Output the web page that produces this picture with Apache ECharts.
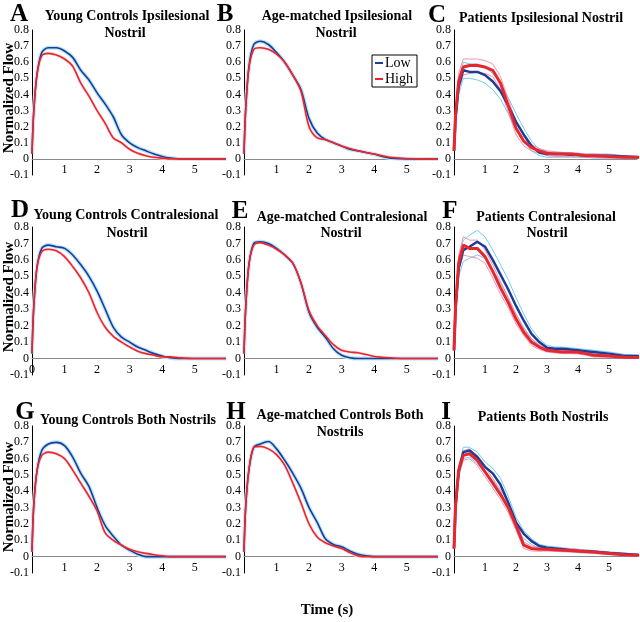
<!DOCTYPE html>
<html>
<head>
<meta charset="utf-8">
<script src="https://cdn.jsdelivr.net/npm/echarts@6/dist/echarts.min.js"></script>
<style>
  html, body { margin: 0; padding: 0; background: #fff; }
  #main { width: 640px; height: 622px; }
</style>
</head>
<body>
<div id="main"></div>
<script>
  // time points (s) shared by every curve
  const t = [0, 0.05, 0.15, 0.3, 0.5, 0.75, 1.0, 1.25, 1.5, 1.75, 2.0, 2.25, 2.5, 2.75, 3.0, 3.25, 3.5, 3.75, 4.0, 4.25, 4.5, 5.0, 5.5, 6.0];

  // A - young controls ipsilesional
  const aLow  = [0.03, 0.28, 0.52, 0.66, 0.69, 0.69, 0.67, 0.63, 0.55, 0.49, 0.41, 0.34, 0.26, 0.15, 0.10, 0.07, 0.05, 0.03, 0.015, 0.005, 0, 0, 0, 0];
  const aHigh = [0.03, 0.28, 0.52, 0.64, 0.655, 0.645, 0.62, 0.575, 0.47, 0.39, 0.30, 0.22, 0.13, 0.10, 0.06, 0.035, 0.02, 0.01, 0.005, 0, 0, 0, 0, 0];
  // B - age-matched ipsilesional
  const bLow  = [0.03, 0.30, 0.57, 0.71, 0.73, 0.71, 0.66, 0.60, 0.52, 0.43, 0.25, 0.16, 0.12, 0.10, 0.08, 0.06, 0.05, 0.04, 0.03, 0.015, 0.005, 0, 0, 0];
  const bHigh = [0.03, 0.30, 0.56, 0.68, 0.69, 0.68, 0.65, 0.60, 0.52, 0.42, 0.20, 0.13, 0.12, 0.10, 0.08, 0.065, 0.05, 0.04, 0.03, 0.02, 0.01, 0.002, 0, 0];
  // C - patients ipsilesional
  const cLow    = [0.05, 0.25, 0.45, 0.55, 0.54, 0.54, 0.52, 0.48, 0.42, 0.33, 0.23, 0.15, 0.08, 0.04, 0.03, 0.03, 0.03, 0.025, 0.025, 0.02, 0.02, 0.02, 0.015, 0.01];
  const cLowUp  = [0.05, 0.27, 0.50, 0.60, 0.59, 0.59, 0.57, 0.53, 0.47, 0.38, 0.28, 0.19, 0.11, 0.06, 0.045, 0.04, 0.04, 0.035, 0.035, 0.03, 0.03, 0.03, 0.02, 0.015];
  const cLowDn  = [0.05, 0.22, 0.40, 0.50, 0.50, 0.49, 0.47, 0.43, 0.37, 0.28, 0.18, 0.11, 0.05, 0.02, 0.01, 0.01, 0.01, 0.01, 0.01, 0.01, 0.005, 0.005, 0.005, 0.005];
  const cHigh   = [0.05, 0.28, 0.48, 0.57, 0.58, 0.58, 0.57, 0.55, 0.47, 0.33, 0.19, 0.11, 0.07, 0.05, 0.035, 0.03, 0.03, 0.03, 0.025, 0.02, 0.02, 0.015, 0.01, 0.01];
  const cHighUp = [0.05, 0.30, 0.53, 0.62, 0.62, 0.62, 0.61, 0.59, 0.51, 0.37, 0.23, 0.14, 0.09, 0.065, 0.05, 0.045, 0.04, 0.04, 0.035, 0.03, 0.03, 0.025, 0.015, 0.015];
  const cHighDn = [0.05, 0.26, 0.43, 0.52, 0.53, 0.54, 0.53, 0.51, 0.43, 0.29, 0.15, 0.08, 0.05, 0.035, 0.02, 0.015, 0.015, 0.015, 0.015, 0.01, 0.01, 0.005, 0.005, 0.005];
  // D - young controls contralesional
  const dLow  = [0.03, 0.30, 0.55, 0.67, 0.69, 0.68, 0.67, 0.63, 0.57, 0.50, 0.41, 0.30, 0.19, 0.13, 0.10, 0.07, 0.05, 0.03, 0.015, 0.005, 0, 0, 0, 0];
  const dHigh = [0.03, 0.30, 0.55, 0.65, 0.665, 0.655, 0.62, 0.56, 0.49, 0.40, 0.28, 0.19, 0.135, 0.10, 0.07, 0.045, 0.03, 0.02, 0.01, 0.01, 0.005, 0, 0, 0];
  // E - age-matched contralesional
  const eLow  = [0.03, 0.30, 0.57, 0.70, 0.71, 0.70, 0.67, 0.63, 0.58, 0.46, 0.28, 0.19, 0.13, 0.06, 0.02, 0.005, 0, 0, 0, 0, 0, 0, 0, 0];
  const eHigh = [0.03, 0.30, 0.57, 0.69, 0.705, 0.69, 0.665, 0.63, 0.58, 0.46, 0.29, 0.20, 0.14, 0.085, 0.05, 0.04, 0.035, 0.025, 0.012, 0.008, 0.004, 0, 0, 0];
  // F - patients contralesional
  const fLow    = [0.05, 0.30, 0.55, 0.66, 0.68, 0.71, 0.68, 0.60, 0.51, 0.42, 0.32, 0.23, 0.15, 0.10, 0.065, 0.06, 0.06, 0.055, 0.05, 0.045, 0.04, 0.03, 0.016, 0.015];
  const fLowUp  = [0.05, 0.32, 0.60, 0.72, 0.75, 0.78, 0.74, 0.66, 0.57, 0.48, 0.37, 0.27, 0.18, 0.12, 0.08, 0.07, 0.07, 0.065, 0.06, 0.055, 0.05, 0.04, 0.025, 0.02];
  const fLowDn  = [0.05, 0.27, 0.50, 0.59, 0.61, 0.63, 0.61, 0.54, 0.46, 0.37, 0.27, 0.19, 0.12, 0.08, 0.05, 0.05, 0.05, 0.045, 0.04, 0.035, 0.03, 0.02, 0.01, 0.01];
  const fHigh   = [0.05, 0.32, 0.58, 0.69, 0.67, 0.67, 0.62, 0.53, 0.43, 0.34, 0.24, 0.16, 0.10, 0.07, 0.05, 0.045, 0.04, 0.04, 0.038, 0.03, 0.02, 0.015, 0.008, 0.006];
  const fHighUp = [0.05, 0.34, 0.63, 0.74, 0.72, 0.72, 0.66, 0.57, 0.47, 0.37, 0.27, 0.18, 0.12, 0.085, 0.06, 0.055, 0.05, 0.05, 0.048, 0.04, 0.03, 0.02, 0.012, 0.01];
  const fHighDn = [0.05, 0.30, 0.53, 0.63, 0.62, 0.61, 0.58, 0.49, 0.39, 0.31, 0.21, 0.14, 0.08, 0.055, 0.04, 0.035, 0.03, 0.03, 0.028, 0.02, 0.01, 0.008, 0.004, 0.002];
  // G - young controls both nostrils
  const gLow  = [0.03, 0.30, 0.52, 0.65, 0.69, 0.70, 0.68, 0.61, 0.51, 0.43, 0.30, 0.19, 0.125, 0.07, 0.04, 0.015, 0, 0, 0, 0, 0, 0, 0, 0];
  const gHigh = [0.03, 0.30, 0.52, 0.62, 0.64, 0.63, 0.60, 0.53, 0.45, 0.37, 0.28, 0.145, 0.10, 0.07, 0.045, 0.03, 0.02, 0.012, 0.005, 0, 0, 0, 0, 0];
  // H - age-matched both nostrils
  const hLow  = [0.03, 0.30, 0.53, 0.67, 0.69, 0.705, 0.66, 0.59, 0.51, 0.42, 0.30, 0.21, 0.11, 0.075, 0.06, 0.035, 0.015, 0.005, 0, 0, 0, 0, 0, 0];
  const hHigh = [0.03, 0.30, 0.53, 0.67, 0.675, 0.66, 0.625, 0.56, 0.45, 0.33, 0.20, 0.12, 0.085, 0.065, 0.05, 0.025, 0.005, 0, 0, 0, 0, 0, 0, 0];
  // I - patients both nostrils
  const iLow    = [0.05, 0.30, 0.52, 0.64, 0.65, 0.61, 0.55, 0.51, 0.44, 0.33, 0.21, 0.14, 0.095, 0.065, 0.055, 0.05, 0.045, 0.04, 0.035, 0.033, 0.03, 0.022, 0.016, 0.01];
  const iLowUp  = [0.05, 0.32, 0.55, 0.67, 0.67, 0.64, 0.58, 0.54, 0.48, 0.37, 0.24, 0.16, 0.11, 0.075, 0.065, 0.06, 0.055, 0.05, 0.045, 0.042, 0.038, 0.03, 0.022, 0.015];
  const iLowDn  = [0.05, 0.27, 0.48, 0.60, 0.61, 0.57, 0.51, 0.47, 0.40, 0.29, 0.18, 0.11, 0.075, 0.05, 0.04, 0.038, 0.035, 0.03, 0.025, 0.022, 0.02, 0.014, 0.01, 0.005];
  const iHigh   = [0.05, 0.32, 0.53, 0.62, 0.63, 0.59, 0.52, 0.45, 0.38, 0.30, 0.19, 0.07, 0.05, 0.045, 0.045, 0.042, 0.04, 0.038, 0.035, 0.032, 0.028, 0.02, 0.012, 0.008];
  const iHighUp = [0.05, 0.34, 0.56, 0.65, 0.66, 0.62, 0.55, 0.48, 0.41, 0.33, 0.22, 0.09, 0.065, 0.058, 0.055, 0.052, 0.05, 0.048, 0.045, 0.04, 0.035, 0.027, 0.018, 0.012];
  const iHighDn = [0.05, 0.29, 0.50, 0.59, 0.60, 0.56, 0.49, 0.42, 0.35, 0.27, 0.16, 0.05, 0.035, 0.033, 0.035, 0.032, 0.03, 0.028, 0.025, 0.024, 0.02, 0.013, 0.006, 0.004];

  const xTicks = [1, 2, 3, 4, 5];
  const yTicks = [-0.1, 0, 0.1, 0.2, 0.3, 0.4, 0.5, 0.6, 0.7, 0.8];

  const panels = [
    {low: aLow, high: aHigh},
    {low: bLow, high: bHigh},
    {low: cLow, high: cHigh, lowBand: [cLowUp, cLowDn], highBand: [cHighUp, cHighDn]},
    {low: dLow, high: dHigh},
    {low: eLow, high: eHigh},
    {low: fLow, high: fHigh, lowBand: [fLowUp, fLowDn], highBand: [fHighUp, fHighDn]},
    {low: gLow, high: gHigh},
    {low: hLow, high: hHigh},
    {low: iLow, high: iHigh, lowBand: [iLowUp, iLowDn], highBand: [iHighUp, iHighDn]}
  ];

  const colLeft = [32, 244, 454];
  const colWidth = [192, 192, 183];
  const rowTop = [30, 227, 426];
  const rowHeight = [145, 148, 147];

  const serif = 'Liberation Serif';
  const blue = '#1c3c96';
  const red = '#e8262e';

  const pair = arr => t.map((x, i) => [x, arr[i]]);

  let grids = [], xAxes = [], yAxes = [], series = [];

  panels.forEach((p, k) => {
    const r = Math.floor(k / 3), c = k % 3;
    grids.push({left: colLeft[c], top: rowTop[r], width: colWidth[c], height: rowHeight[r]});
    xAxes.push({
      type: 'value', gridIndex: k, min: 0, max: 5.9, interval: 1,
      axisLine: {onZero: true, lineStyle: {color: '#8a8a8a', width: 1}},
      axisTick: {show: false},
      splitLine: {show: false},
      axisLabel: {
        showMaxLabel: false,
        // labels sit just under the zero line, above the -0.1 level
        margin: Math.round(5 - rowHeight[r] / 9),
        fontFamily: serif, fontSize: 12, color: '#000',
        formatter: v => (xTicks.indexOf(v) >= 0 || (v === 0 && k === 3)) ? String(v) : ''
      }
    });
    yAxes.push({
      type: 'value', gridIndex: k, min: yTicks[0], max: yTicks[yTicks.length - 1], interval: 0.1,
      axisLine: {show: true, lineStyle: {color: '#000', width: 1}},
      axisTick: {show: false},
      splitLine: {show: false},
      axisLabel: {
        margin: 3, fontFamily: serif, fontSize: 12, color: '#000',
        formatter: v => {
          const n = Math.round(v * 10) / 10;
          return n === 0 ? '0' : n.toFixed(1);
        }
      }
    });
    const base = {type: 'line', xAxisIndex: k, yAxisIndex: k, showSymbol: false, silent: true, animation: false};
    if (p.lowBand) {
      p.lowBand.forEach(b => series.push(Object.assign({}, base, {name: 'Low band', data: pair(b), lineStyle: {color: '#62c6ee', width: 1, opacity: 0.9}})));
      p.highBand.forEach(b => series.push(Object.assign({}, base, {name: 'High band', data: pair(b), lineStyle: {color: '#f08aa8', width: 1, opacity: 0.9}})));
      series.push(Object.assign({}, base, {name: 'Low', data: pair(p.low), itemStyle: {color: blue}, lineStyle: {color: blue, width: 2.5}}));
      series.push(Object.assign({}, base, {name: 'High', data: pair(p.high), itemStyle: {color: red}, lineStyle: {color: red, width: 3}}));
    } else {
      series.push(Object.assign({}, base, {name: 'Low halo', smooth: 0.3, data: pair(p.low), lineStyle: {color: '#b8e6f8', width: 4}}));
      series.push(Object.assign({}, base, {name: 'High halo', smooth: 0.3, data: pair(p.high), lineStyle: {color: '#fbd8de', width: 3}}));
      series.push(Object.assign({}, base, {name: 'Low', smooth: 0.3, data: pair(p.low), itemStyle: {color: blue}, lineStyle: {color: blue, width: 1.6}}));
      series.push(Object.assign({}, base, {name: 'High', smooth: 0.3, data: pair(p.high), itemStyle: {color: red}, lineStyle: {color: red, width: 1.6}}));
    }
  });

  const txt = (text, x, y, size, extra) => Object.assign({
    type: 'text', x: x, y: y, silent: true,
    style: {text: text, fontFamily: serif, fontWeight: 'bold', fontSize: size, fill: '#000', align: 'center', verticalAlign: 'middle'}
  }, extra || {});

  const graphics = [
    txt('A', 19, 15, 25), txt('Young Controls Ipsilesional', 127, 16, 14), txt('Nostril', 125, 33, 14),
    txt('B', 225, 15, 25), txt('Age-matched Ipsilesional', 337, 16, 14), txt('Nostril', 336, 33, 14),
    txt('C', 437, 16, 25), txt('Patients Ipsilesional Nostril', 541, 18, 14),
    txt('D', 20, 211, 25), txt('Young Controls Contralesional', 126, 215, 14), txt('Nostril', 127, 233, 14),
    txt('E', 240, 212, 25), txt('Age-matched Contralesional', 342, 217, 14), txt('Nostril', 341, 233, 14),
    txt('F', 450, 212, 25), txt('Patients Contralesional', 546, 217, 14), txt('Nostril', 547, 233, 14),
    txt('G', 25, 413, 25), txt('Young Controls Both Nostrils', 128, 420, 14),
    txt('H', 236, 413, 25), txt('Age-matched Controls Both', 340, 415, 14), txt('Nostrils', 340, 432, 14),
    txt('I', 446, 413, 25), txt('Patients Both Nostrils', 543, 417, 14),
    txt('Normalized Flow', 9, 98, 15, {rotation: Math.PI / 2}),
    txt('Normalized Flow', 9, 297, 15, {rotation: Math.PI / 2}),
    txt('Normalized Flow', 9, 497, 15, {rotation: Math.PI / 2}),
    txt('Time (s)', 327, 610, 15)
  ];

  let myChart = echarts.init(document.getElementById('main'));
  myChart.setOption({
    backgroundColor: '#fff',
    animation: false,
    grid: grids,
    xAxis: xAxes,
    yAxis: yAxes,
    legend: {
      data: ['Low', 'High'],
      orient: 'vertical',
      left: 372, top: 55,
      selectedMode: false,
      icon: 'rect',
      itemWidth: 8, itemHeight: 2, itemGap: 2,
      padding: [1, 4, 1, 3],
      borderColor: '#000', borderWidth: 1,
      textStyle: {fontFamily: serif, fontSize: 14, color: '#000', padding: [0, 0, 0, -3]}
    },
    graphic: graphics,
    series: series
  });
</script>
</body>
</html>
